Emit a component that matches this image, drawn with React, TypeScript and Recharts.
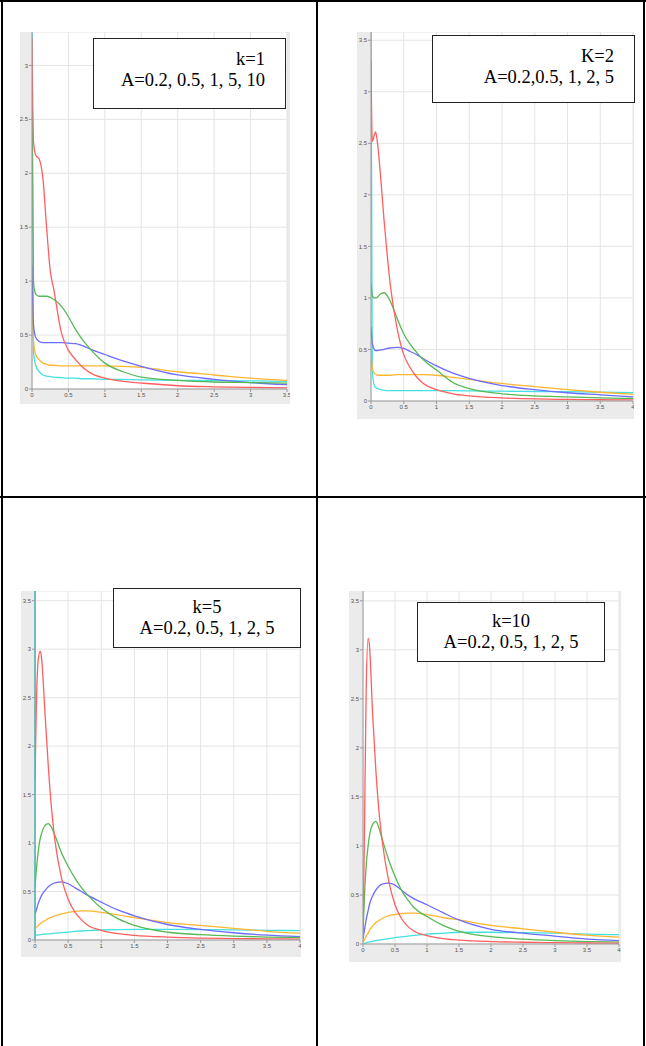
import React from "react";
import {
  LineChart,
  Line,
  XAxis,
  YAxis,
  CartesianGrid,
  ReferenceLine,
} from "recharts";

// x positions sampled per panel
const xK1 = [0, 0.02, 0.05, 0.1, 0.15, 0.2, 0.25, 0.3, 0.4, 0.5, 0.6, 0.7, 0.8, 1, 1.25, 1.5, 2, 2.5, 3, 3.5];
const xK2 = [0, 0.02, 0.05, 0.07, 0.1, 0.15, 0.2, 0.25, 0.3, 0.4, 0.5, 0.6, 0.7, 0.8, 1, 1.25, 1.5, 2, 2.5, 3, 3.5, 4];
const xK5 = [0, 0.02, 0.05, 0.08, 0.1, 0.15, 0.2, 0.25, 0.3, 0.4, 0.5, 0.6, 0.7, 0.8, 1, 1.25, 1.5, 2, 2.5, 3, 3.5, 4];
const xK10 = xK5;

// k=1, A = 0.2, 0.5, 1, 5, 10
const red1 = [3.25, 2.3, 2.17, 2.13, 1.95, 1.5, 1.1, 0.92, 0.53, 0.36, 0.27, 0.2, 0.15, 0.1, 0.07, 0.055, 0.03, 0.02, 0.015, 0.01];
const green1 = [2.6, 1.0, 0.88, 0.86, 0.86, 0.86, 0.85, 0.83, 0.77, 0.67, 0.55, 0.45, 0.37, 0.24, 0.16, 0.11, 0.08, 0.065, 0.06, 0.055];
const blue1 = [1.15, 0.6, 0.48, 0.44, 0.43, 0.43, 0.43, 0.43, 0.43, 0.425, 0.42, 0.4, 0.37, 0.32, 0.26, 0.21, 0.13, 0.09, 0.06, 0.04];
const orange1 = [0.9, 0.45, 0.32, 0.27, 0.24, 0.23, 0.22, 0.22, 0.215, 0.215, 0.215, 0.215, 0.215, 0.215, 0.21, 0.2, 0.16, 0.13, 0.1, 0.08];
const cyan1 = [3.4, 0.35, 0.22, 0.16, 0.13, 0.12, 0.115, 0.11, 0.105, 0.1, 0.1, 0.095, 0.095, 0.09, 0.088, 0.085, 0.08, 0.078, 0.075, 0.07];

// k=2
const red2 = [3.3, 2.52, 2.58, 2.61, 2.5, 2.15, 1.75, 1.4, 1.1, 0.7, 0.45, 0.32, 0.23, 0.17, 0.11, 0.07, 0.05, 0.03, 0.02, 0.015, 0.012, 0.01];
const green2 = [1.15, 1.02, 1.0, 1.0, 1.01, 1.04, 1.05, 1.02, 0.96, 0.8, 0.65, 0.55, 0.47, 0.4, 0.3, 0.18, 0.12, 0.07, 0.05, 0.04, 0.03, 0.025];
const blue2 = [0.72, 0.56, 0.5, 0.49, 0.49, 0.495, 0.5, 0.51, 0.515, 0.52, 0.51, 0.48, 0.45, 0.41, 0.34, 0.27, 0.22, 0.15, 0.11, 0.08, 0.06, 0.04];
const orange2 = [0.5, 0.32, 0.27, 0.26, 0.25, 0.25, 0.25, 0.25, 0.25, 0.255, 0.255, 0.255, 0.255, 0.255, 0.25, 0.23, 0.21, 0.17, 0.14, 0.11, 0.085, 0.065];
const cyan2 = [3.6, 0.3, 0.15, 0.13, 0.12, 0.11, 0.105, 0.1, 0.1, 0.1, 0.1, 0.1, 0.1, 0.1, 0.1, 0.1, 0.098, 0.095, 0.092, 0.09, 0.085, 0.08];

// k=5
const red5 = [1.65, 2.4, 2.9, 2.98, 2.9, 2.35, 1.8, 1.35, 1.03, 0.64, 0.42, 0.29, 0.21, 0.15, 0.1, 0.065, 0.048, 0.03, 0.02, 0.015, 0.012, 0.01];
const green5 = [0.55, 0.72, 0.92, 1.05, 1.1, 1.18, 1.2, 1.16, 1.08, 0.9, 0.76, 0.64, 0.54, 0.46, 0.33, 0.22, 0.15, 0.08, 0.055, 0.04, 0.03, 0.025];
const blue5 = [0.27, 0.31, 0.38, 0.43, 0.46, 0.51, 0.55, 0.575, 0.59, 0.6, 0.58, 0.54, 0.5, 0.46, 0.39, 0.31, 0.25, 0.16, 0.11, 0.075, 0.05, 0.035];
const orange5 = [0.12, 0.13, 0.15, 0.17, 0.18, 0.2, 0.22, 0.235, 0.25, 0.27, 0.285, 0.295, 0.3, 0.3, 0.285, 0.26, 0.23, 0.18, 0.15, 0.12, 0.09, 0.07];
const cyan5 = [0.05, 0.05, 0.052, 0.055, 0.057, 0.06, 0.063, 0.066, 0.07, 0.076, 0.082, 0.088, 0.093, 0.097, 0.103, 0.108, 0.11, 0.11, 0.108, 0.105, 0.1, 0.097];

// k=10
const red10 = [0.05, 1.0, 2.6, 3.12, 3.05, 2.35, 1.78, 1.35, 1.05, 0.65, 0.4, 0.26, 0.18, 0.13, 0.085, 0.055, 0.04, 0.025, 0.018, 0.013, 0.01, 0.008];
const green10 = [0.1, 0.45, 0.8, 1.0, 1.1, 1.22, 1.25, 1.18, 1.07, 0.86, 0.69, 0.55, 0.45, 0.37, 0.28, 0.19, 0.13, 0.075, 0.05, 0.035, 0.025, 0.02];
const blue10 = [0.05, 0.13, 0.25, 0.34, 0.4, 0.49, 0.55, 0.59, 0.61, 0.62, 0.6, 0.55, 0.5, 0.46, 0.4, 0.32, 0.245, 0.15, 0.11, 0.08, 0.05, 0.035];
const orange10 = [0.02, 0.04, 0.08, 0.11, 0.14, 0.18, 0.22, 0.24, 0.26, 0.29, 0.3, 0.31, 0.315, 0.315, 0.3, 0.27, 0.245, 0.19, 0.155, 0.12, 0.09, 0.07];
const cyan10 = [0.0, 0.005, 0.012, 0.018, 0.02, 0.028, 0.035, 0.04, 0.045, 0.055, 0.065, 0.072, 0.08, 0.087, 0.1, 0.11, 0.12, 0.12, 0.115, 0.11, 0.1, 0.095];

const xTicks35 = [0, 0.5, 1, 1.5, 2, 2.5, 3, 3.5];
const xTicks4 = [0, 0.5, 1, 1.5, 2, 2.5, 3, 3.5, 4];
const yTicks3 = [0, 0.5, 1, 1.5, 2, 2.5, 3];
const yTicks35 = [0, 0.5, 1, 1.5, 2, 2.5, 3, 3.5];

const COLORS = {
  red: "#ff5f5f",
  green: "#55b955",
  blue: "#6c6cff",
  orange: "#ffb52e",
  cyan: "#45e0e0",
};

function build(xs: number[], red: number[], green: number[], blue: number[], orange: number[], cyan: number[]) {
  return xs.map((x, i) => ({ x, red: red[i], green: green[i], blue: blue[i], orange: orange[i], cyan: cyan[i] }));
}

const tickStyle = { fontSize: 6, fill: "#555", fontFamily: "Liberation Sans, Arial, sans-serif" };

function Panel(props: {
  left: number;
  top: number;
  width: number;
  height: number;
  yWidth: number;
  xHeight: number;
  right: number;
  data: any[];
  xMax: number;
  yMax: number;
  xTicks: number[];
  yTicks: number[];
  cyanAxis?: boolean;
}) {
  const p = props;
  return (
    <div style={{ position: "absolute", left: p.left, top: p.top, width: p.width, height: p.height, background: "#ebebeb" }}>
      <LineChart width={p.width} height={p.height} data={p.data} margin={{ top: 0, right: p.right, bottom: 0, left: 0 }}>
        <CartesianGrid stroke="#e4e4e4" fill="#ffffff" strokeWidth={1} />
        <XAxis
          dataKey="x"
          type="number"
          domain={[0, p.xMax]}
          ticks={p.xTicks}
          height={p.xHeight}
          tick={tickStyle}
          tickSize={3}
          tickMargin={1}
          stroke="#9a9a9a"
          interval={0}
          allowDataOverflow
        />
        <YAxis
          type="number"
          domain={[0, p.yMax]}
          ticks={p.yTicks}
          width={p.yWidth}
          tick={tickStyle}
          tickSize={3}
          tickMargin={1}
          stroke="#9a9a9a"
          interval={0}
          allowDataOverflow
        />
        {p.cyanAxis && <ReferenceLine x={0} stroke={COLORS.cyan} strokeWidth={2} />}
        <Line type="monotone" dataKey="cyan" stroke={COLORS.cyan} strokeWidth={1.3} dot={false} isAnimationActive={false} />
        <Line type="monotone" dataKey="orange" stroke={COLORS.orange} strokeWidth={1.3} dot={false} isAnimationActive={false} />
        <Line type="monotone" dataKey="blue" stroke={COLORS.blue} strokeWidth={1.3} dot={false} isAnimationActive={false} />
        <Line type="monotone" dataKey="green" stroke={COLORS.green} strokeWidth={1.3} dot={false} isAnimationActive={false} />
        <Line type="monotone" dataKey="red" stroke={COLORS.red} strokeWidth={1.3} dot={false} isAnimationActive={false} />
      </LineChart>
    </div>
  );
}

function Note(props: { left: number; top: number; width: number; height: number; align: "right" | "center"; lines: string[]; pad?: number; padTop: number }) {
  const p = props;
  return (
    <div
      style={{
        position: "absolute",
        left: p.left,
        top: p.top,
        width: p.width,
        height: p.height,
        boxSizing: "border-box",
        border: "1.5px solid #222",
        background: "#fff",
        fontFamily: "Liberation Serif, Times New Roman, serif",
        fontSize: 18.5,
        lineHeight: "21px",
        textAlign: p.align,
        paddingRight: p.pad ?? 0,
        paddingTop: p.padTop,
        color: "#000",
        whiteSpace: "nowrap",
      }}
    >
      {p.lines.map((l) => (
        <div key={l}>{l}</div>
      ))}
    </div>
  );
}

const rule = (left: number, top: number, width: number, height: number) => (
  <div style={{ position: "absolute", left, top, width, height, background: "#000" }} />
);

export default function App() {
  return (
    <div style={{ position: "absolute", left: 0, top: 0, width: 646, height: 1046, background: "#fff", overflow: "hidden" }}>
      {rule(0, 0, 646, 2)}
      {rule(1, 0, 2, 1046)}
      {rule(316, 0, 2, 1046)}
      {rule(643, 0, 2, 1046)}
      {rule(0, 496, 646, 2)}

      <Panel left={20} top={32} width={270} height={372} yWidth={12} xHeight={15} right={3}
        data={build(xK1, red1, green1, blue1, orange1, cyan1)} xMax={3.5} yMax={3.31} xTicks={xTicks35} yTicks={yTicks3} />
      <Note left={93} top={38} width={193} height={71} align="right" pad={20} padTop={10} lines={["k=1", "A=0.2, 0.5, 1, 5, 10"]} />

      <Panel left={357} top={32} width={277} height={387} yWidth={14} xHeight={18} right={1}
        data={build(xK2, red2, green2, blue2, orange2, cyan2)} xMax={4} yMax={3.58} xTicks={xTicks4} yTicks={yTicks35} />
      <Note left={432} top={35} width={203} height={68} align="right" pad={20} padTop={10} lines={["K=2", "A=0.2,0.5, 1, 2, 5"]} />

      <Panel left={21} top={591} width={280} height={366} yWidth={14} xHeight={17} right={1}
        data={build(xK5, red5, green5, blue5, orange5, cyan5)} xMax={4} yMax={3.6} xTicks={xTicks4} yTicks={yTicks35} cyanAxis />
      <Note left={113} top={588} width={188} height={60} align="center" padTop={8} lines={["k=5", "A=0.2, 0.5, 1, 2, 5"]} />

      <Panel left={349} top={591} width={272} height={371} yWidth={14} xHeight={18} right={2}
        data={build(xK10, red10, green10, blue10, orange10, cyan10)} xMax={4} yMax={3.6} xTicks={xTicks4} yTicks={yTicks35} />
      <Note left={417} top={602} width={188} height={60} align="center" padTop={8} lines={["k=10", "A=0.2, 0.5, 1, 2, 5"]} />
    </div>
  );
}
